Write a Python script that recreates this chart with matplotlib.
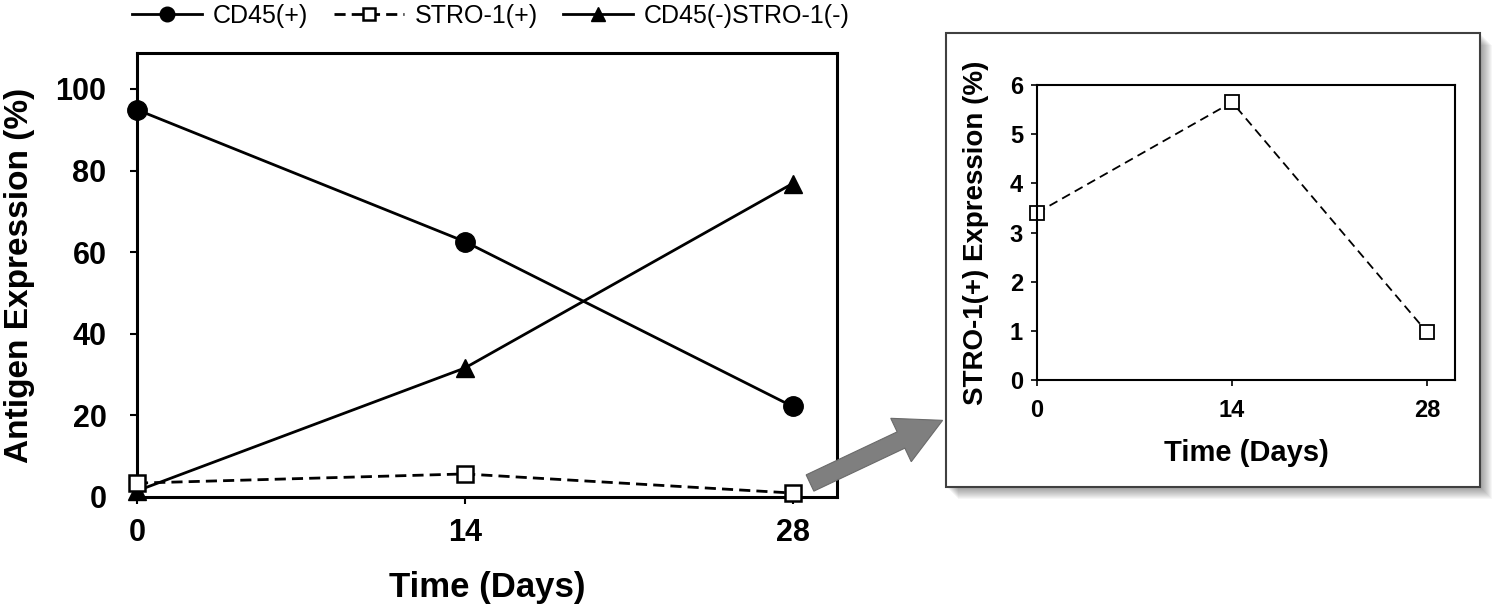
import numpy as np
import matplotlib
matplotlib.use("Agg")
import matplotlib.pyplot as plt
from matplotlib.patches import Rectangle, FancyArrow
from matplotlib.transforms import IdentityTransform

#%% Data

days = [0, 14, 28]
cd45_pos = [94.9, 62.6, 22.2]
stro1_pos = [3.40, 5.65, 0.97]
double_neg = [1.5, 31.6, 76.8]

main_yticks = [0, 20, 40, 60, 80, 100]
inset_yticks = [0, 1, 2, 3, 4, 5, 6]
series_names = ["CD45(+)", "STRO-1(+)", "CD45(-)STRO-1(-)"]

#%% Figure

W, H = 1499, 607
plt.rcParams['font.family'] = ['Liberation Sans', 'DejaVu Sans']
fig = plt.figure(figsize=(W / 100, H / 100), dpi=100)
fig.patch.set_facecolor("white")


def px_box(left, top, right, bottom):
    # pixel box (origin top-left) -> figure fraction [l, b, w, h]
    return [left / W, (H - bottom) / H, (right - left) / W, (bottom - top) / H]


# Main axes
ax = fig.add_axes(px_box(137, 53, 837, 497))
l1, = ax.plot(days, cd45_pos, color="black", lw=2.0, marker="o", ms=14,
              clip_on=False, zorder=3)
l2, = ax.plot(days, stro1_pos, color="black", lw=2.0, ls=(0, (4, 2.2)),
              marker="s", ms=12, mfc="white", mec="black", mew=1.8,
              clip_on=False, zorder=4)
l3, = ax.plot(days, double_neg, color="black", lw=2.0, marker="^", ms=13,
              clip_on=False, zorder=3)

ax.set_xlim(0, 29.9)
ax.set_ylim(0, 108.8)
ax.set_xticks(days)
ax.set_yticks(main_yticks)
for s in ax.spines.values():
    s.set_linewidth(2.2)
ax.tick_params(direction="out", length=5, width=1.5, labelsize=22)
ax.tick_params(axis="x", pad=10)
ax.tick_params(axis="y", pad=17)
for t in ax.get_xticklabels() + ax.get_yticklabels():
    t.set_fontweight("bold")
ax.set_xlabel("Time (Days)", fontsize=25, fontweight="bold", labelpad=17)
ax.set_ylabel("Antigen Expression (%)", fontsize=24, fontweight="bold",
              labelpad=15)

fig.legend([l1, l2, l3], series_names, loc="center left",
           bbox_to_anchor=(132 / W, 1 - 16 / H), ncol=3, frameon=False,
           fontsize=18, handlelength=2.8, handletextpad=0.45,
           columnspacing=1.0, borderaxespad=0, borderpad=0, markerscale=0.75)

# Inset frame with shadow
fl, ft, fr, fb = 946, 33, 1480, 487
for i in range(12, 0, -1):
    fig.patches.append(Rectangle((fl + i, H - fb - i), fr - fl, fb - ft,
                                 transform=IdentityTransform(),
                                 facecolor="black", edgecolor="none",
                                 alpha=0.035, zorder=0))
fig.patches.append(Rectangle((fl, H - fb), fr - fl, fb - ft,
                             transform=IdentityTransform(),
                             facecolor="white", edgecolor="#404040",
                             lw=1.5, zorder=1))

# Arrow pointing to inset
fig.patches.append(FancyArrow(810, H - 483, 131 - 40, 62 - 19,
                              width=18, head_width=48, head_length=46,
                              length_includes_head=False,
                              transform=IdentityTransform(),
                              facecolor="#7f7f7f", edgecolor="#6a6a6a",
                              lw=0.8, zorder=2))

# Inset axes
ax2 = fig.add_axes(px_box(1037, 85, 1455, 380))
ax2.set_zorder(3)
ax2.plot(days, stro1_pos, color="black", lw=1.3, ls=(0, (5, 3)),
         marker="s", ms=10, mfc="white", mec="black", mew=1.3,
         clip_on=False)
ax2.set_xlim(0, 30)
ax2.set_ylim(0, 6)
ax2.set_xticks(days)
ax2.set_yticks(inset_yticks)
for s in ax2.spines.values():
    s.set_linewidth(1.5)
ax2.tick_params(direction="out", length=4, width=1.2, labelsize=17, pad=6)
ax2.tick_params(axis="x", pad=10)
for t in ax2.get_xticklabels() + ax2.get_yticklabels():
    t.set_fontweight("bold")
ax2.set_xlabel("Time (Days)", fontsize=21, fontweight="bold", labelpad=12)
ax2.set_ylabel("STRO-1(+) Expression (%)", fontsize=20, fontweight="bold",
               labelpad=15)

fig.savefig("out.png", dpi=100)
